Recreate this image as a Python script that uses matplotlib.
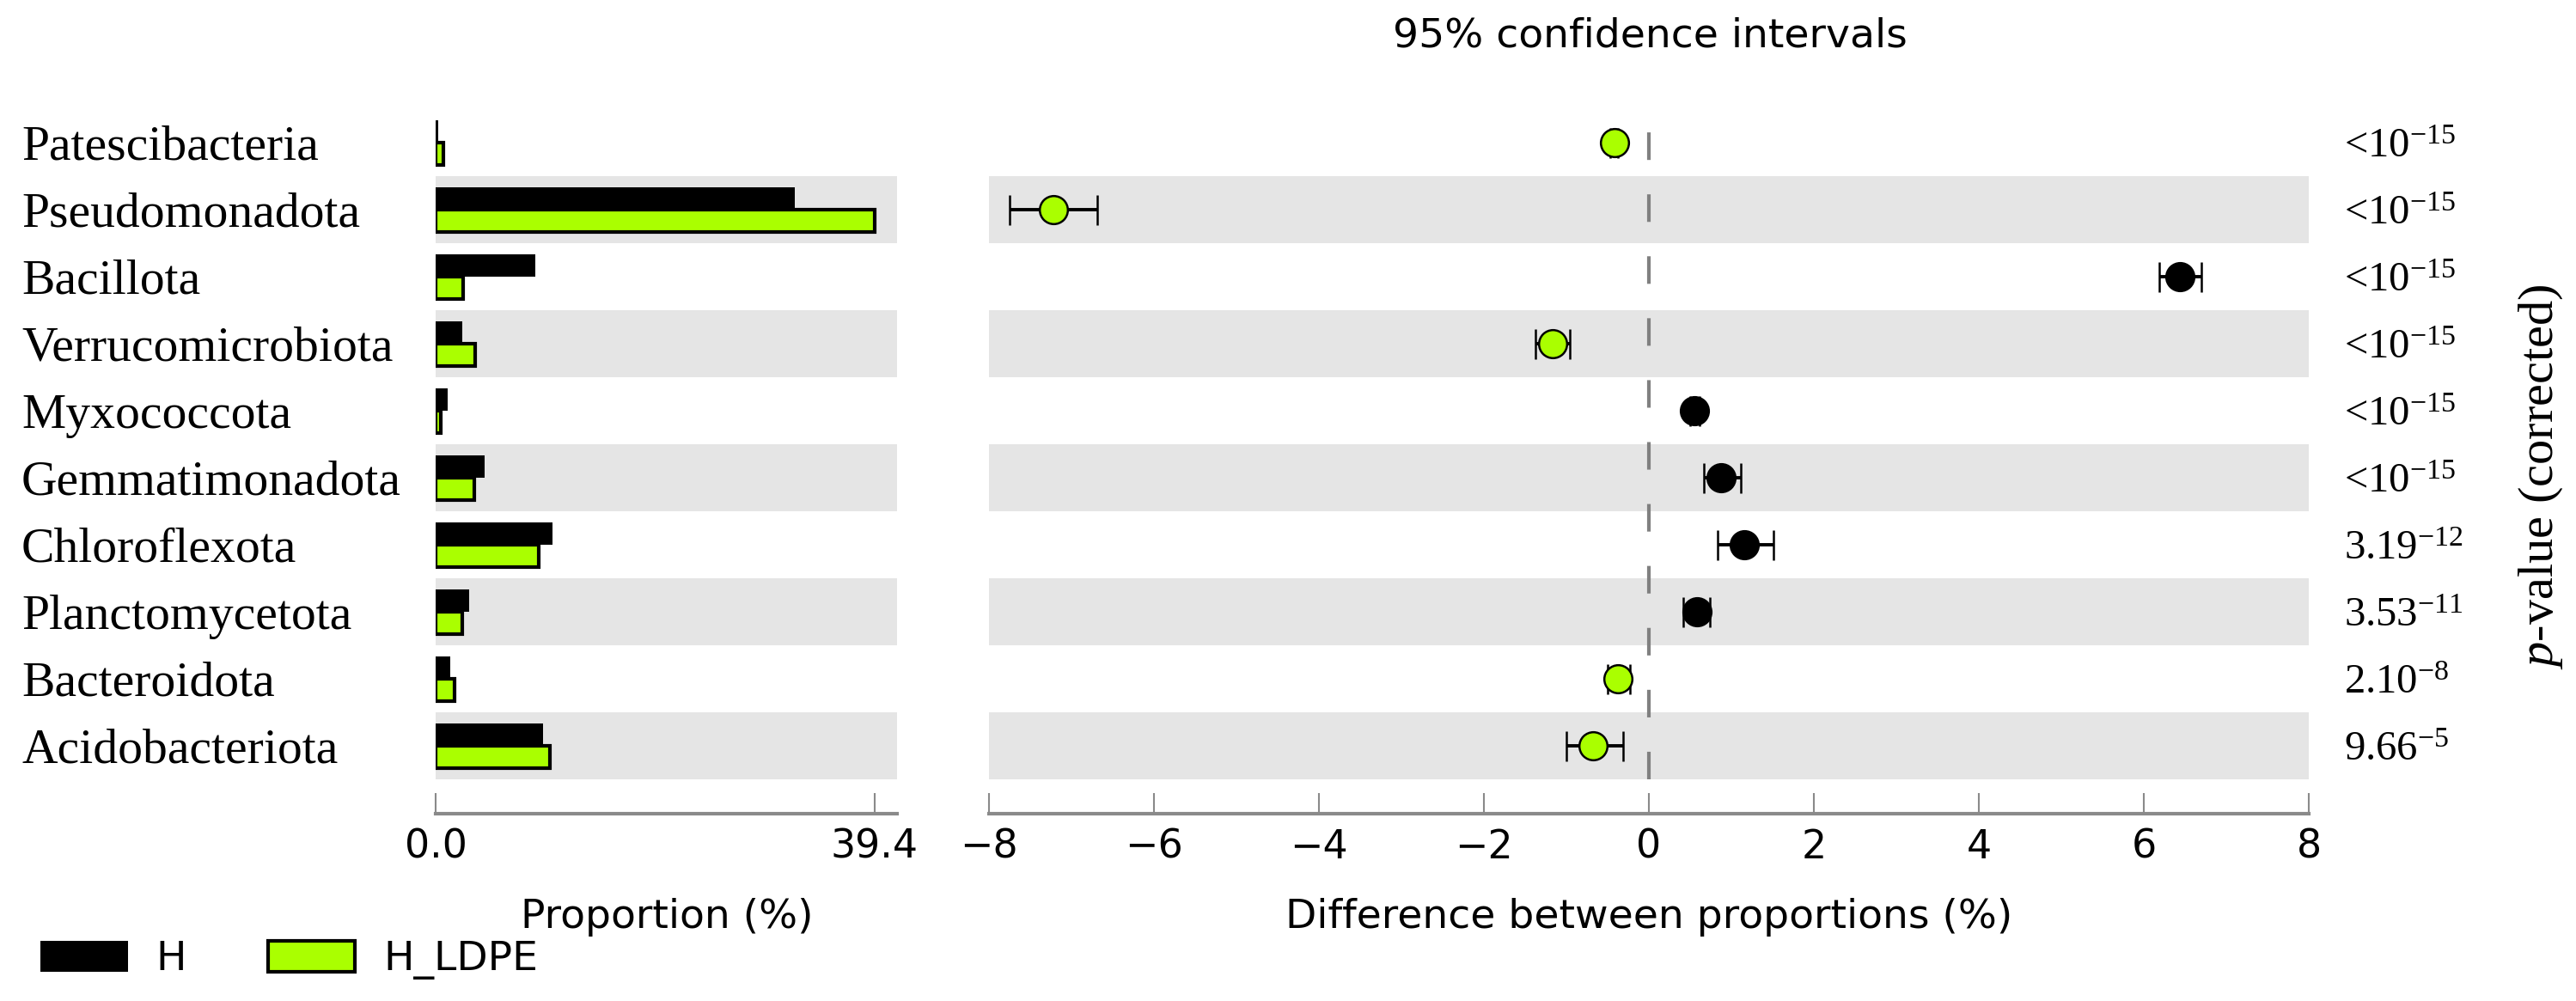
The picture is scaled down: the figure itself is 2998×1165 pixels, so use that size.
import matplotlib
matplotlib.use('Agg')
import matplotlib.pyplot as plt
import matplotlib.transforms as mtransforms
from matplotlib.patches import Patch
import numpy as np

# ---------------- data ----------------
categories = ['Patescibacteria', 'Pseudomonadota', 'Bacillota', 'Verrucomicrobiota',
              'Myxococcota', 'Gemmatimonadota', 'Chloroflexota', 'Planctomycetota',
              'Bacteroidota', 'Acidobacteriota']
prop_H = [0.25, 32.2, 8.95, 2.4, 1.05, 4.38, 10.45, 3.0, 1.3, 9.6]
prop_LDPE = [0.67, 39.4, 2.5, 3.57, 0.5, 3.5, 9.28, 2.42, 1.68, 10.28]
diff = [-0.42, -7.22, 6.44, -1.17, 0.55, 0.87, 1.16, 0.58, -0.38, -0.68]
ci_low = [-0.47, -7.75, 6.19, -1.37, 0.50, 0.67, 0.83, 0.42, -0.50, -1.00]
ci_high = [-0.37, -6.69, 6.70, -0.96, 0.61, 1.11, 1.51, 0.74, -0.23, -0.31]
p_labels = ['<10$^{-15}$'] * 6 + ['3.19$^{-12}$', '3.53$^{-11}$', '2.10$^{-8}$', '9.66$^{-5}$']
prop_ticks = [0.0, 39.4]
prop_ticklabels = ['0.0', '39.4']
prop_max = 41.4
diff_ticks = [-8, -6, -4, -2, 0, 2, 4, 6, 8]
groups = ['H', 'H_LDPE']

# ---------------- style ----------------
GREEN = '#aaff00'
BAND = '#e5e5e5'
AXC = '#8a8a8a'
SERIF = 'Liberation Serif'
plt.rcParams['font.family'] = ['DejaVu Sans']
plt.rcParams['mathtext.fontset'] = 'custom'
plt.rcParams['mathtext.rm'] = SERIF
plt.rcParams['mathtext.it'] = SERIF + ':italic'
plt.rcParams['mathtext.bf'] = SERIF + ':bold'

W, H = 2998, 1165
fig = plt.figure(figsize=(W / 100, H / 100), dpi=100)


def fx(px):
    return px / W


def fy(py):
    return 1 - py / H


top, bot = 127, 907
ax1 = fig.add_axes([fx(507), fy(bot), fx(1044) - fx(507), (bot - top) / H])
ax2 = fig.add_axes([fx(1151), fy(bot), fx(2687) - fx(1151), (bot - top) / H])

n = len(categories)
y = np.arange(n)
for ax in (ax1, ax2):
    ax.set_facecolor('none')
    for i in range(1, n, 2):
        ax.axhspan(i - 0.5, i + 0.5, color=BAND, lw=0, zorder=0)
    ax.set_ylim(n - 0.5, -0.5)
    for s in ['left', 'right', 'top']:
        ax.spines[s].set_visible(False)
    ax.spines['bottom'].set_position(('outward', 28.8))
    ax.spines['bottom'].set_color(AXC)
    ax.spines['bottom'].set_linewidth(3)
    ax.set_yticks([])
    ax.tick_params(axis='x', direction='in', length=17, width=1.5, color=AXC,
                   pad=12, labelsize=33)

# left: proportions
ax1.barh(y - 0.165, prop_H, height=0.33, color='black', lw=0, zorder=2)
ax1.barh(y + 0.165, prop_LDPE, height=0.33, color=GREEN, edgecolor='black', lw=3, zorder=3)
ax1.set_xlim(0, prop_max)
ax1.set_xticks(prop_ticks)
ax1.set_xticklabels(prop_ticklabels)

# right: differences
ax2.set_xlim(-8, 8)
ax2.set_xticks(diff_ticks)
ax2.axvline(0, color='#808080', lw=3, dashes=(7.7, 9.6), zorder=2)
for i in range(n):
    c = GREEN if diff[i] < 0 else 'black'
    ax2.errorbar(diff[i], i, xerr=[[diff[i] - ci_low[i]], [ci_high[i] - diff[i]]],
                 fmt='o', ms=23.5, mfc=c, mec='black', mew=1.8, ecolor='black',
                 elinewidth=2.8, capsize=12.6, capthick=2.3, zorder=4)

# category labels
tr1 = mtransforms.blended_transform_factory(fig.transFigure, ax1.transData)
for i, cat in enumerate(categories):
    ax1.text(fx(25), i, cat, transform=tr1, ha='left', va='center_baseline',
             fontsize=41.5, family=SERIF)

# p-values
tr2 = mtransforms.blended_transform_factory(fig.transFigure, ax2.transData)
for i, p in enumerate(p_labels):
    ax2.text(fx(2728), i, p, transform=tr2, ha='left', va='center_baseline',
             fontsize=35, family=SERIF)

fig.text(fx(2957), fy(555), '$p$-value (corrected)', rotation=90, ha='center',
         va='center', fontsize=42, family=SERIF)

fig.text(fx(1920), fy(42), '95% confidence intervals', ha='center', va='center', fontsize=34)
fig.text(fx(776), fy(1068), 'Proportion (%)', ha='center', va='center', fontsize=34)
fig.text(fx(1919), fy(1068), 'Difference between proportions (%)', ha='center',
         va='center', fontsize=34)

handles = [Patch(facecolor='black', edgecolor='black', lw=0),
           Patch(facecolor=GREEN, edgecolor='black', lw=3)]
fig.legend(handles=handles, labels=groups, loc='center left',
           bbox_to_anchor=(fx(47), fy(1117)), ncol=2, frameon=False, fontsize=34,
           handlelength=2.15, handleheight=0.8, handletextpad=0.7, columnspacing=2.0,
           borderpad=0, borderaxespad=0)

fig.savefig('out.png', dpi=100)
